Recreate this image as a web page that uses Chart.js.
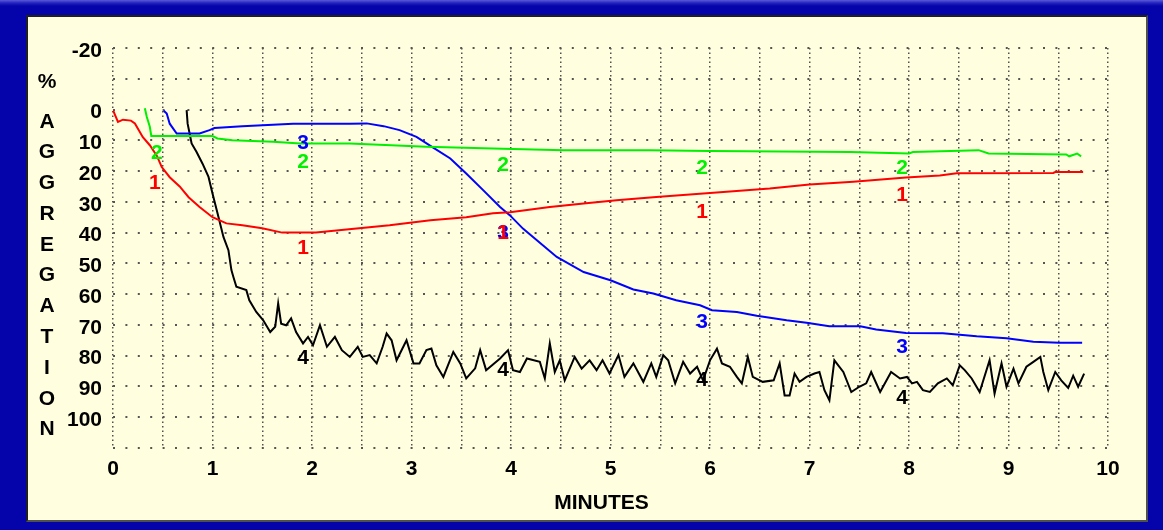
<!DOCTYPE html>
<html>
<head>
<meta charset="utf-8">
<title>% Aggregation vs Minutes</title>
<script src="https://cdn.jsdelivr.net/npm/chart.js@4.4.1/dist/chart.umd.min.js"></script>
<style>
  html, body { margin: 0; padding: 0; }
  body {
    width: 1163px; height: 530px; overflow: hidden;
    background: linear-gradient(#5a5ad8 0px, #2323c0 3px, #0404aa 6px, #0404aa 100%);
    position: relative;
  }
  #panel {
    position: absolute; left: 26px; top: 15px;
    width: 1118px; height: 503px;
    background: #ffffe0;
    border-top: 2px solid #202020; border-left: 2px solid #202020;
    border-right: 2px solid #505050; border-bottom: 2px solid #505050;
  }
  canvas { display: block; }
</style>
</head>
<body>
<div id="panel"><canvas id="agg" width="1118" height="503"></canvas></div>
<script>
// Trace 1 (red)
const redT = [0.00, 0.05, 0.10, 0.18, 0.22, 0.30, 0.37, 0.44, 0.49, 0.57, 0.67, 0.76, 0.87, 1.00, 1.14, 1.30, 1.50, 1.70, 2.04, 2.27, 2.78, 3.19, 3.55, 3.82, 3.99, 4.39, 4.73, 5.06, 5.46, 6.00, 6.60, 7.00, 7.44, 7.97, 8.31, 8.48, 9.45, 9.47, 9.75];
const redV = [0.2, 4.0, 3.3, 3.6, 4.5, 9.0, 11.6, 15.0, 18.7, 22.0, 25.0, 28.5, 31.7, 35.0, 37.0, 37.6, 38.6, 40.0, 40.0, 39.2, 37.6, 36.0, 35.0, 33.7, 33.4, 31.7, 30.5, 29.5, 28.4, 27.1, 25.7, 24.4, 23.5, 22.1, 21.4, 20.7, 20.6, 20.3, 20.3];

// Trace 2 (green)
const greenT = [0.32, 0.34, 0.37, 0.385, 1.00, 1.05, 1.20, 1.61, 1.88, 2.38, 3.15, 3.82, 4.53, 5.40, 6.00, 7.41, 8.00, 8.04, 8.70, 8.80, 9.58, 9.61, 9.69, 9.73];
const greenV = [-0.4, 2.4, 5.6, 8.6, 8.6, 9.4, 10.0, 10.5, 11.0, 11.0, 12.1, 12.7, 13.2, 13.2, 13.5, 13.8, 14.3, 13.8, 13.2, 14.3, 14.6, 15.2, 14.3, 15.2];

// Trace 3 (blue)
const blueT = [0.51, 0.54, 0.57, 0.64, 0.87, 0.97, 1.02, 1.30, 1.81, 2.38, 2.55, 2.72, 2.88, 3.05, 3.21, 3.39, 3.55, 3.72, 3.89, 3.99, 4.12, 4.26, 4.46, 4.73, 5.00, 5.23, 5.43, 5.66, 5.90, 6.02, 6.27, 6.47, 6.77, 6.97, 7.20, 7.51, 7.67, 7.97, 8.34, 8.68, 8.98, 9.25, 9.51, 9.74];
const blueV = [0.4, 1.3, 4.6, 7.8, 7.8, 6.7, 6.0, 5.4, 4.6, 4.6, 4.5, 5.4, 6.7, 8.9, 12.2, 15.9, 20.8, 26.2, 31.7, 34.4, 38.7, 42.5, 47.9, 52.8, 55.5, 58.5, 59.8, 62.0, 63.6, 65.2, 65.8, 67.0, 68.5, 69.3, 70.4, 70.4, 71.5, 72.6, 72.7, 73.7, 74.3, 75.5, 75.8, 75.8];

// Trace 4 (black)
const blackT = [0.74, 0.75, 0.77, 0.79, 0.84, 0.90, 0.96, 1.00, 1.06, 1.11, 1.16, 1.19, 1.21, 1.24, 1.34, 1.37, 1.44, 1.51, 1.58, 1.63, 1.66, 1.69, 1.74, 1.79, 1.84, 1.91, 1.96, 2.01, 2.08, 2.15, 2.23, 2.30, 2.38, 2.46, 2.51, 2.58, 2.65, 2.71, 2.75, 2.80, 2.85, 2.95, 3.02, 3.08, 3.15, 3.20, 3.25, 3.32, 3.42, 3.49, 3.55, 3.64, 3.69, 3.75, 3.89, 3.97, 4.02, 4.09, 4.16, 4.29, 4.34, 4.39, 4.44, 4.49, 4.54, 4.64, 4.71, 4.79, 4.86, 4.92, 4.99, 5.08, 5.14, 5.23, 5.33, 5.41, 5.46, 5.53, 5.58, 5.65, 5.73, 5.80, 5.87, 5.93, 6.00, 6.07, 6.12, 6.20, 6.27, 6.32, 6.38, 6.43, 6.53, 6.64, 6.70, 6.75, 6.80, 6.85, 6.90, 6.97, 7.05, 7.10, 7.15, 7.20, 7.25, 7.34, 7.42, 7.50, 7.57, 7.62, 7.71, 7.82, 7.91, 7.98, 8.03, 8.08, 8.14, 8.21, 8.29, 8.38, 8.44, 8.51, 8.56, 8.63, 8.71, 8.81, 8.86, 8.93, 8.98, 9.05, 9.10, 9.18, 9.25, 9.32, 9.35, 9.40, 9.47, 9.53, 9.60, 9.65, 9.70, 9.76];
const blackV = [0.2, 4.6, 7.8, 11.0, 13.8, 17.6, 21.9, 27.3, 34.9, 41.4, 45.7, 52.2, 54.4, 57.6, 58.7, 62.0, 65.8, 68.5, 72.3, 70.6, 63.0, 69.6, 70.1, 67.9, 72.3, 76.0, 73.9, 76.6, 70.1, 77.1, 73.9, 78.2, 80.4, 77.1, 80.4, 79.8, 82.5, 77.1, 72.8, 75.0, 81.5, 75.0, 82.5, 82.5, 78.2, 77.7, 83.1, 86.9, 78.8, 82.5, 87.4, 84.1, 78.2, 84.7, 80.9, 78.2, 84.7, 85.3, 80.9, 82.0, 87.4, 76.0, 85.3, 81.5, 88.0, 80.4, 84.2, 81.5, 84.7, 81.5, 85.8, 79.8, 86.9, 82.5, 88.5, 82.5, 86.9, 79.8, 81.5, 89.0, 82.0, 85.8, 83.6, 88.0, 81.5, 77.7, 82.5, 83.6, 86.9, 89.0, 80.4, 86.9, 88.5, 88.0, 82.5, 92.9, 92.9, 85.8, 88.5, 86.9, 85.8, 85.3, 91.2, 94.5, 81.5, 85.3, 91.8, 90.1, 89.0, 85.3, 91.8, 85.3, 87.4, 86.9, 89.0, 88.5, 91.2, 91.8, 89.0, 87.4, 89.6, 83.1, 84.7, 87.4, 91.8, 81.5, 92.3, 82.5, 90.1, 84.2, 89.0, 83.6, 82.0, 80.4, 85.3, 91.2, 85.3, 88.0, 90.5, 86.5, 90.1, 85.8];

// Trace number tags along each curve (minutes, % aggregation)
const redTagT = [0.42, 1.91, 3.92, 5.92, 7.93];
const redTagV = [24.1, 45.2, 40.2, 33.3, 27.9];
const greenTagT = [0.44, 1.91, 3.92, 5.92, 7.93];
const greenTagV = [14.3, 17.0, 18.1, 19.2, 19.2];
const blueTagT = [1.91, 3.92, 5.92, 7.93];
const blueTagV = [10.9, 40.2, 69.0, 77.2];
const blackTagT = [1.91, 3.92, 5.92, 7.93];
const blackTagV = [80.9, 84.7, 88.0, 93.9];

// Axis text
const xTitle = 'MINUTES';
const yTitleLetters = ['%', 'A', 'G', 'G', 'R', 'E', 'G', 'A', 'T', 'I', 'O', 'N'];
const yTitleV = [-9, 4, 14, 24, 34, 44, 54, 64, 74, 84, 94, 104];
const yNoLabel = [-10, 110];

const RED = '#ff0000', GREEN = '#00f000', BLUE = '#0000ff', BLACK = '#000000';
const FONT = '"Liberation Sans", Arial, sans-serif';

const pts = (t, v) => t.map((x, i) => ({ x: x, y: v[i] }));
const trace = (label, t, v, color) => ({
  label: label, data: pts(t, v), borderColor: color, backgroundColor: color,
  borderWidth: 2, pointRadius: 0, tension: 0, fill: false
});

const textPlugin = {
  id: 'aggText',
  afterDatasetsDraw(chart) {
    const ctx = chart.ctx, xs = chart.scales.x, ys = chart.scales.y;
    ctx.save();
    ctx.textAlign = 'center';
    ctx.textBaseline = 'middle';
    ctx.font = 'bold 21px ' + FONT;
    const tags = [
      ['2', greenTagT, greenTagV, GREEN],
      ['4', blackTagT, blackTagV, BLACK],
      ['3', blueTagT, blueTagV, BLUE],
      ['1', redTagT, redTagV, RED]
    ];
    tags.forEach(([txt, t, v, c]) => {
      ctx.fillStyle = c;
      t.forEach((x, i) => ctx.fillText(txt, xs.getPixelForValue(x), ys.getPixelForValue(v[i])));
    });
    // stacked y-axis title
    ctx.fillStyle = '#000';
    yTitleLetters.forEach((ch, i) => ctx.fillText(ch, 19, ys.getPixelForValue(yTitleV[i])));
    // x-axis title
    ctx.font = 'bold 21px ' + FONT;
    ctx.fillText(xTitle, xs.getPixelForValue(4.91), 486);
    ctx.restore();
  }
};

new Chart(document.getElementById('agg'), {
  type: 'line',
  data: {
    datasets: [
      trace('1', redT, redV, RED),
      trace('2', greenT, greenV, GREEN),
      trace('3', blueT, blueV, BLUE),
      trace('4', blackT, blackV, BLACK)
    ]
  },
  options: {
    responsive: false,
    animation: false,
    devicePixelRatio: 1,
    layout: { padding: { left: 0, right: 38, top: 31, bottom: 0 } },
    plugins: { legend: { display: false }, tooltip: { enabled: false } },
    scales: {
      x: {
        type: 'linear', min: 0, max: 10,
        afterFit(s) { s.height = 72; },
        ticks: {
          stepSize: 0.5, autoSkip: false, maxRotation: 0, padding: 9,
          color: '#000', font: { family: FONT, size: 21, weight: 'bold' },
          callback: v => Number.isInteger(v) ? String(v) : ''
        },
        grid: { color: '#505050', lineWidth: 1.5, drawTicks: false },
        border: { display: false, dash: [1.5, 3] }
      },
      y: {
        type: 'linear', min: -20, max: 110, reverse: true,
        afterFit(s) { s.width = 85; },
        ticks: {
          stepSize: 10, padding: 11, labelOffset: 3,
          color: '#000', font: { family: FONT, size: 21, weight: 'bold' },
          callback: v => yNoLabel.includes(v) ? '' : String(v)
        },
        grid: { color: '#555', lineWidth: 2, drawTicks: false },
        border: { display: false, dash: [2, 10.4] }
      }
    }
  },
  plugins: [textPlugin]
});
</script>
</body>
</html>
